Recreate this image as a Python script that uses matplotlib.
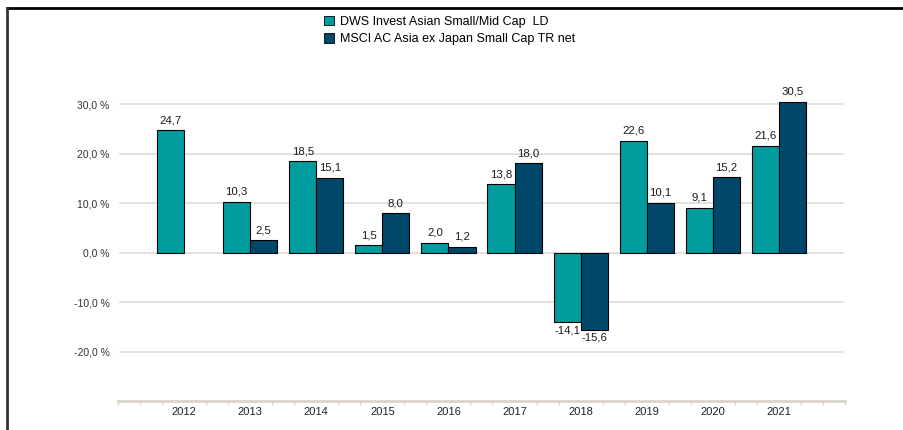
import matplotlib
matplotlib.use("Agg")
import matplotlib.pyplot as plt
import numpy as np
from matplotlib.lines import Line2D
from matplotlib.patches import Patch

plt.rcParams['font.family'] = ['Liberation Sans', 'DejaVu Sans']

years = ["2012", "2013", "2014", "2015", "2016", "2017", "2018", "2019", "2020", "2021"]
fund = [24.7, 10.3, 18.5, 1.5, 2.0, 13.8, -14.1, 22.6, 9.1, 21.6]
bench = [None, 2.5, 15.1, 8.0, 1.2, 18.0, -15.6, 10.1, 15.2, 30.5]
series_names = ["DWS Invest Asian Small/Mid Cap  LD", "MSCI AC Asia ex Japan Small Cap TR net"]
yticks = [-20, -10, 0, 10, 20, 30]

c_fund = "#009C9E"
c_bench = "#00476A"
grid_c = "#DEDBD3"

fig = plt.figure(figsize=(9.04, 4.30), dpi=100)
ax = fig.add_axes([0.1305, 0.0674, 0.8042, 0.8056])

x = np.arange(len(years))
w = 0.41

def fmt(v):
    return f"{v:.1f}".replace(".", ",")

for i, v in enumerate(fund):
    ax.bar(x[i] - w / 2, v, w, color=c_fund, edgecolor="black", linewidth=0.8, zorder=3)
    if v >= 0:
        ax.text(x[i] - w / 2, v + 1.0, fmt(v), ha="center", va="bottom", fontsize=8.2, color="#1a1a1a")
    else:
        ax.text(x[i] - w / 2, v - 0.6, fmt(v), ha="center", va="top", fontsize=8.2, color="#1a1a1a")
for i, v in enumerate(bench):
    if v is None:
        continue
    ax.bar(x[i] + w / 2, v, w, color=c_bench, edgecolor="black", linewidth=0.8, zorder=3)
    if v >= 0:
        ax.text(x[i] + w / 2, v + 1.0, fmt(v), ha="center", va="bottom", fontsize=8.2, color="#1a1a1a")
    else:
        ax.text(x[i] + w / 2, v - 0.6, fmt(v), ha="center", va="top", fontsize=8.2, color="#1a1a1a")

ax.set_xlim(-1, 10)
ax.set_ylim(-30, 40)
ax.set_yticks(yticks)
ax.set_yticklabels([f"{t:.1f}".replace(".", ",") + " %" for t in yticks], fontsize=7.5, color="#333333")
for t in yticks:
    ax.axhline(t, xmin=0.003, xmax=0.997, color=grid_c, linewidth=1.2, zorder=1)

ax.set_xticks(x)
ax.set_xticklabels(years, fontsize=8, color="#222222")
minor = [m / 3 for m in range(-3, 31) if m % 3 != 0] + [-1, 10]
ax.set_xticks(minor, minor=True)
ax.tick_params(axis="x", which="major", length=0, pad=4)
ax.tick_params(axis="x", which="minor", length=3, width=1, color=grid_c, direction="out")
ax.tick_params(axis="y", length=0, pad=6)

for s in ["top", "right", "left"]:
    ax.spines[s].set_visible(False)
ax.spines["bottom"].set_color("#D9D5CC")
ax.spines["bottom"].set_linewidth(2)

handles = [Patch(facecolor=c_fund, edgecolor="black", linewidth=0.6),
           Patch(facecolor=c_bench, edgecolor="black", linewidth=0.6)]
fig.legend(handles, series_names, loc="upper left", bbox_to_anchor=(0.346, 0.99),
           frameon=False, fontsize=9, handlelength=0.8, handleheight=0.8,
           handletextpad=0.5, labelspacing=0.45)

fig.add_artist(Line2D([0.0077, 1.0], [0.981, 0.981], transform=fig.transFigure, color="black", linewidth=2))
fig.add_artist(Line2D([0.0077, 0.0077], [0.0, 0.981], transform=fig.transFigure, color="#333333", linewidth=2))

fig.savefig("out.png", dpi=100)
